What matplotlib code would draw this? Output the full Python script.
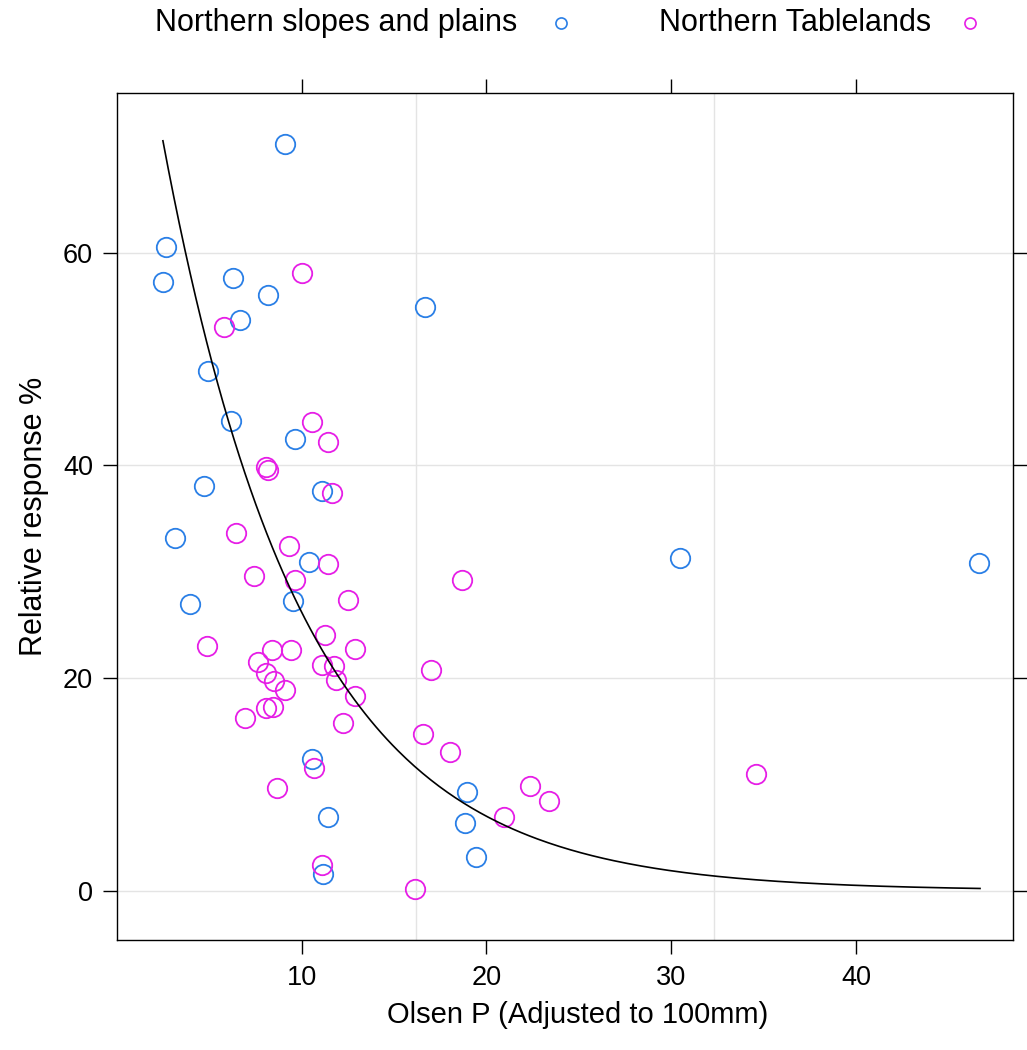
import numpy as np
import matplotlib
matplotlib.use("Agg")
import matplotlib.pyplot as plt
from matplotlib.lines import Line2D

plt.rcParams['font.family'] = ['Liberation Sans', 'DejaVu Sans']

# Olsen P (x) and relative response % (y) for each region
slopes_x = [9.10, 2.65, 2.49, 6.28, 8.18, 6.66, 16.68, 4.93, 6.17, 9.64, 4.73, 11.08,
            3.14, 10.42, 3.95, 9.55, 30.45, 46.62, 10.58, 18.94, 11.44, 18.84, 19.44, 11.17]
slopes_y = [70.2, 60.5, 57.2, 57.6, 56.0, 53.7, 54.9, 48.9, 44.2, 42.5, 38.1, 37.6,
            33.2, 30.9, 27.0, 27.2, 31.3, 30.8, 12.4, 9.3, 6.9, 6.4, 3.2, 1.6]

table_x = [10.05, 5.81, 10.58, 11.44, 8.07, 8.19, 11.63, 6.44, 9.31, 11.44, 7.44, 9.64,
           18.66, 12.53, 4.89, 11.26, 8.38, 9.41, 12.89, 7.65, 11.08, 11.77, 8.05, 8.50,
           11.86, 16.99, 9.13, 12.89, 8.05, 8.46, 6.93, 12.25, 16.55, 18.03, 10.67, 8.65,
           22.36, 23.39, 20.97, 34.60, 11.12, 16.14]
table_y = [58.1, 53.0, 44.1, 42.2, 39.8, 39.6, 37.4, 33.6, 32.4, 30.7, 29.6, 29.2,
           29.2, 27.3, 23.0, 24.0, 22.6, 22.6, 22.7, 21.5, 21.2, 21.1, 20.5, 19.7,
           19.8, 20.8, 18.9, 18.3, 17.2, 17.3, 16.2, 15.8, 14.7, 13.0, 11.5, 9.7,
           9.85, 8.4, 6.9, 11.0, 2.4, 0.2]

series_labels = ["Northern slopes and plains", "Northern Tablelands"]
series_colors = ["#2a7fe6", "#e61ee6"]

x_ticks = [10, 20, 30, 40]
y_ticks = [0, 20, 40, 60]

# exponential decay fit: response = a * exp(-b * P)
fit_a = 98.1
fit_b = 0.132
fit_range = (2.5, 46.7)

W, H = 1027, 1050
fig = plt.figure(figsize=(W / 100, H / 100), dpi=100)
left, right, top, bottom = 116.7, 1013.3, 92.7, 940.0
ax = fig.add_axes([left / W, (H - bottom) / H, (right - left) / W, (bottom - top) / H])

xlo, xhi = 0.0, 48.5
ax.set_xlim(xlo, xhi)
ax.set_ylim(-4.64, 75.05)

# reference grid: horizontal at ticks, two evenly spaced vertical lines
for yv in y_ticks:
    ax.axhline(yv, color="#e4e4e4", lw=1.0, zorder=0)
for k in (1, 2):
    ax.axvline(xlo + (xhi - xlo) * k / 3, color="#e4e4e4", lw=1.0, zorder=0)

ax.plot(slopes_x, slopes_y, linestyle="none", marker="o", markersize=14,
        markerfacecolor="none", markeredgecolor=series_colors[0], markeredgewidth=1.3)
ax.plot(table_x, table_y, linestyle="none", marker="o", markersize=14,
        markerfacecolor="none", markeredgecolor=series_colors[1], markeredgewidth=1.3)

px = np.linspace(fit_range[0], fit_range[1], 300)
ax.plot(px, fit_a * np.exp(-fit_b * px), color="black", lw=1.2)

ax.set_xticks(x_ticks)
ax.set_yticks(y_ticks)
ax.tick_params(axis="both", which="both", direction="out", length=10, width=1.0,
               labelsize=19.5, top=True, right=True, labeltop=False, labelright=False,
               colors="black")
ax.tick_params(axis="x", pad=8)
ax.tick_params(axis="y", pad=7)
for s in ax.spines.values():
    s.set_linewidth(1.0)

ax.set_xlabel("Olsen P (Adjusted to 100mm)", fontsize=21)
ax.xaxis.set_label_coords(0.5145, -0.072)
ax.set_ylabel("Relative response %", fontsize=22, labelpad=10)

# key at the top
key_y = 1 - 23 / H
for lab, col, tx, mx in zip(series_labels, series_colors, (517, 931), (561, 970)):
    fig.text(tx / W, key_y, lab, ha="right", va="center", fontsize=22)
    fig.add_artist(Line2D([mx / W], [key_y], transform=fig.transFigure, marker="o",
                          markersize=8, markerfacecolor="none", markeredgecolor=col,
                          markeredgewidth=1.2, linestyle="none"))

fig.savefig("out.png", dpi=100)
